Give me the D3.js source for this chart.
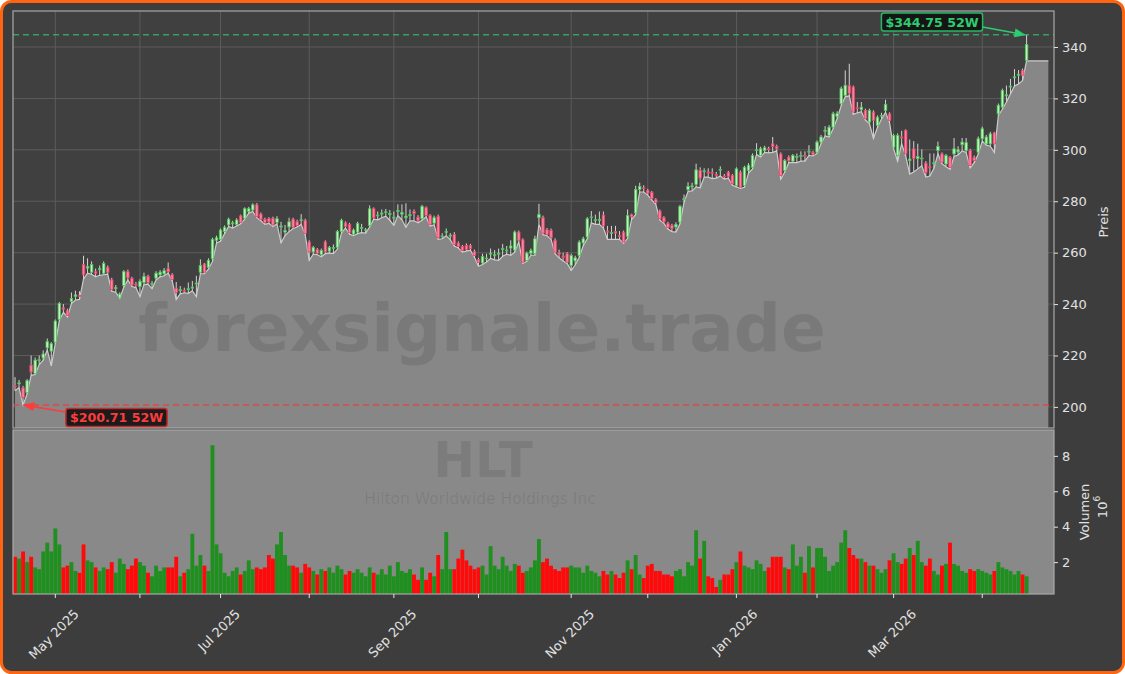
<!DOCTYPE html>
<html><head><meta charset="utf-8">
<script src="https://cdn.jsdelivr.net/npm/d3@7/dist/d3.min.js"></script>
<style>html,body{margin:0;padding:0;background:#ffffff;} svg{display:block;font-family:"DejaVu Sans",sans-serif;}</style>
</head><body><svg id="c" width="1125" height="674"></svg>
<script>
// ---------------- DATA ----------------
const ticker = "HLT";
const company = "Hilton Worldwide Holdings Inc";
const watermark = "forexsignale.trade";
const startDate = "2025-04-16";
const endDate = "2026-04-17";
const holidays = ["2025-04-18","2025-05-26","2025-06-19","2025-07-04","2025-09-01","2025-11-27",
  "2025-12-25","2026-01-01","2026-01-19","2026-02-16","2026-04-03"];

const openP = [
 208.2,209.0,207.4,205.6,216.2,213.0,218.0,219.0,223.0,221.7,
 225.2,234.0,238.6,237.4,241.0,243.0,243.4,255.4,254.0,252.4,
 252.6,253.4,252.0,254.2,249.4,246.0,242.4,247.2,252.6,250.0,
 247.8,246.8,248.4,250.8,247.6,250.1,251.4,251.8,253.8,251.4,
 246.2,245.2,245.4,245.6,246.2,247.8,252.4,255.6,254.2,257.6,
 264.8,265.2,268.2,270.8,271.2,271.0,274.3,273.4,276.0,276.6,
 278.6,275.0,273.0,273.2,273.4,271.8,270.0,268.0,270.0,273.0,
 272.0,272.6,272.6,264.2,260.3,261.2,259.3,264.2,260.6,261.6,
 262.0,268.2,271.6,271.0,267.2,268.0,269.4,268.6,270.6,277.1,
 274.4,275.0,275.6,274.8,273.4,276.0,275.0,273.6,274.4,276.0,
 273.8,273.2,277.5,274.5,271.5,274.1,266.2,268.0,266.4,267.1,
 263.7,262.4,262.8,262.8,260.5,257.3,256.0,257.6,259.4,258.8,
 259.4,261.2,260.8,261.8,261.0,268.0,265.0,257.0,259.8,259.6,
 273.6,273.6,268.9,268.7,264.8,260.0,258.6,259.6,255.0,256.8,
 258.9,263.8,266.1,273.6,272.4,272.6,274.6,268.4,267.4,268.2,
 266.6,268.0,266.3,274.8,275.4,284.6,285.2,284.2,283.5,280.6,
 276.2,273.6,271.4,270.6,270.0,271.9,280.6,284.5,285.6,286.6,
 292.0,291.6,291.4,291.2,290.4,292.2,289.8,291.3,290.0,286.1,
 291.3,286.1,292.0,293.2,299.8,297.8,299.7,300.4,302.3,301.3,
 298.4,292.0,297.1,295.6,297.2,297.6,297.8,299.2,299.0,299.1,
 303.0,307.2,305.6,308.8,313.0,317.9,321.2,325.0,324.4,316.4,
 315.6,315.3,310.8,314.7,309.5,313.2,315.3,314.0,301.0,297.8,
 305.0,307.5,295.8,300.4,296.6,296.6,294.8,293.4,294.6,299.7,
 298.4,294.5,297.1,298.4,299.2,302.0,299.7,299.7,297.0,299.1,
 304.3,302.3,302.3,306.5,314.0,316.6,321.0,324.4,328.0,329.0,
 330.9,334.8];
const highP = [
 211.6,210.5,208.2,210.8,220.0,219.2,220.0,222.0,226.6,225.2,
 234.0,240.8,240.0,238.2,244.5,245.2,245.0,258.8,257.8,256.6,
 253.8,255.0,256.6,255.0,250.2,247.4,244.6,253.2,253.4,250.6,
 248.6,249.6,252.2,251.4,249.0,252.8,253.2,254.0,256.2,252.0,
 248.6,247.0,246.4,248.4,249.0,251.0,257.4,256.0,257.8,265.8,
 266.6,269.4,270.6,273.6,272.4,273.4,274.8,277.6,277.8,279.2,
 279.3,275.6,273.6,273.8,274.0,274.2,272.0,270.8,273.6,273.6,
 272.8,275.0,273.2,264.8,262.6,261.8,261.6,264.8,262.6,263.2,
 268.8,273.2,272.2,271.6,269.4,272.0,271.2,269.6,278.4,277.6,
 276.0,276.8,277.0,276.6,276.0,278.8,278.8,279.2,276.8,276.8,
 274.6,278.6,278.0,275.0,274.4,274.8,267.6,269.4,267.6,268.0,
 264.4,263.0,263.6,263.4,261.2,258.0,259.6,259.6,261.6,261.0,
 261.6,263.4,262.6,264.8,268.6,268.6,265.6,260.4,261.6,266.6,
 279.0,274.4,269.6,269.4,265.6,261.2,260.0,260.2,259.6,258.8,
 264.8,266.2,273.8,276.2,274.8,276.0,276.0,270.4,270.4,270.4,
 268.4,268.6,276.8,275.2,286.0,287.2,286.2,284.8,284.0,281.2,
 276.8,274.2,272.0,271.2,271.8,278.6,282.6,287.4,287.2,294.6,
 293.2,292.8,292.8,292.8,291.4,293.6,290.6,291.8,290.6,293.2,
 292.0,293.8,294.8,298.6,302.6,301.2,301.6,301.2,305.0,302.0,
 299.0,296.4,297.8,298.4,298.6,299.4,299.4,301.8,299.6,303.6,
 305.8,309.2,309.6,314.8,315.0,324.6,330.9,333.5,325.0,318.6,
 318.6,316.0,316.0,315.4,313.4,314.4,319.5,314.6,306.2,306.4,
 307.4,308.0,304.0,303.4,302.4,300.2,295.6,298.6,298.6,303.2,
 299.0,298.4,297.6,304.6,301.4,304.6,304.6,300.4,297.8,305.2,
 309.0,305.8,307.0,307.0,318.0,323.8,325.0,327.6,331.4,331.0,
 331.6,344.75];
const lowP = [
 206.3,207.5,200.71,205.0,212.3,212.6,216.5,218.2,222.2,216.0,
 224.6,233.6,236.8,235.0,240.2,241.6,241.8,249.8,252.0,251.6,
 250.6,251.2,251.4,251.6,245.0,244.6,242.2,246.6,249.4,246.8,
 246.4,242.9,247.6,247.8,246.0,249.4,250.6,251.0,252.0,249.0,
 241.8,244.0,244.4,244.2,245.2,242.9,251.8,251.8,253.6,256.6,
 263.8,264.4,267.4,270.2,269.6,270.4,271.2,273.0,275.4,276.0,
 273.6,272.4,271.0,271.4,270.2,271.2,263.8,266.6,268.2,269.4,
 270.0,271.0,267.0,257.0,259.4,259.2,258.4,259.6,259.8,259.6,
 261.4,267.6,269.6,267.2,266.6,267.4,267.8,267.6,270.0,273.0,
 272.8,273.6,274.2,272.6,270.6,274.4,272.8,269.9,272.4,272.4,
 271.6,272.6,274.0,270.4,270.8,265.2,265.4,266.6,265.0,262.6,
 261.8,260.2,260.6,261.0,258.2,254.7,255.4,256.4,257.8,257.2,
 257.0,258.6,259.4,259.0,260.2,264.2,255.8,256.6,259.0,259.0,
 271.0,267.0,266.6,265.2,259.6,258.0,256.8,255.8,253.1,255.2,
 258.2,262.8,265.4,271.6,271.0,271.0,269.6,265.2,265.2,265.2,
 265.2,263.6,265.6,273.0,274.8,283.6,283.6,282.4,280.4,278.8,
 272.6,271.4,269.2,268.2,268.0,271.2,279.6,283.8,284.0,285.6,
 285.2,289.4,289.4,288.8,289.0,289.8,288.6,289.0,286.2,285.6,
 285.0,285.4,291.0,292.6,298.2,297.2,299.0,298.8,299.0,299.6,
 288.6,291.4,295.0,295.0,295.0,295.6,295.6,297.8,297.6,298.6,
 302.4,305.4,305.0,308.2,312.2,317.2,320.6,321.0,313.8,314.4,
 314.8,311.6,310.2,304.4,308.8,312.0,314.6,310.6,300.4,295.6,
 302.4,297.6,290.6,291.4,292.6,293.8,289.4,289.8,292.8,298.4,
 294.6,293.4,292.4,297.4,298.0,299.6,299.0,293.0,295.0,298.4,
 303.4,301.8,301.4,299.0,313.4,315.8,318.6,321.8,324.8,325.6,
 327.0,334.6];
const closeP = [
 207.8,209.4,203.6,210.2,213.6,218.2,218.4,220.6,225.4,224.6,
 233.4,240.2,238.0,235.6,242.2,243.6,243.0,251.4,254.6,255.4,
 252.0,253.8,255.8,252.4,245.6,246.4,243.9,252.6,250.2,247.4,
 247.5,248.8,250.8,248.4,248.0,252.0,252.4,253.0,252.6,249.6,
 244.6,245.6,245.0,246.0,246.6,248.2,255.0,252.4,257.0,265.2,
 265.8,268.8,269.9,273.0,271.6,272.7,271.8,277.1,277.1,278.6,
 274.0,273.0,271.7,272.0,270.8,273.2,270.4,268.6,272.0,269.9,
 270.6,272.8,267.5,260.3,262.0,259.8,260.9,260.3,262.0,262.0,
 268.2,272.6,270.2,267.8,268.8,271.4,269.8,268.9,277.1,273.6,
 274.6,275.4,275.9,275.2,273.8,276.4,275.6,274.2,274.8,275.2,
 272.5,278.0,274.5,271.0,273.6,265.8,266.5,268.2,266.8,263.2,
 262.4,260.9,261.2,261.6,258.9,256.3,258.5,257.9,259.8,259.2,
 259.8,261.6,261.0,262.6,268.0,264.8,256.3,259.8,260.8,265.4,
 274.9,267.6,267.1,265.8,260.2,259.4,258.2,256.3,258.9,258.0,
 264.1,265.4,273.2,273.9,272.8,273.0,270.4,268.0,267.8,267.6,
 266.2,264.1,274.5,274.0,284.6,285.8,285.0,283.2,281.0,279.6,
 273.2,272.0,269.8,269.4,271.0,278.0,281.0,285.8,286.0,292.2,
 289.0,291.8,291.0,291.0,290.2,292.4,289.6,289.6,286.8,292.6,
 285.5,293.2,294.0,297.8,300.0,300.4,300.8,300.2,301.3,300.4,
 290.0,295.8,295.8,297.8,297.4,297.8,297.6,299.4,298.2,303.0,
 305.0,307.6,308.8,314.0,314.2,323.8,325.1,322.0,314.7,316.0,
 316.6,312.1,315.3,311.4,312.7,313.4,317.7,311.4,305.6,305.6,
 304.6,298.4,296.4,296.6,297.4,296.8,291.2,293.0,295.0,301.3,
 295.2,297.8,293.2,300.4,300.0,303.0,302.8,293.9,295.8,304.3,
 308.2,305.0,306.2,302.3,317.3,323.1,321.4,324.8,328.4,329.4,
 329.0,341.0];
// volume in millions of shares
const volumeM = [
 2.3,2.2,2.6,2.0,2.3,1.7,1.6,2.6,3.1,2.6,
 3.9,3.0,1.7,1.8,2.0,1.5,1.4,3.0,2.1,2.0,
 1.7,1.5,1.7,1.6,2.0,1.4,2.2,1.9,1.6,1.8,
 2.2,2.0,1.8,1.4,1.2,1.8,1.5,1.7,1.7,1.7,
 2.3,1.2,1.4,1.6,3.6,1.8,2.4,1.8,1.5,8.6,
 3.0,2.5,1.4,1.2,1.5,1.7,1.3,1.5,2.1,1.6,
 1.7,1.6,1.7,2.4,2.2,3.0,3.7,2.4,1.8,1.8,
 1.7,1.4,1.9,1.7,1.5,1.3,1.6,1.5,1.7,1.4,
 1.8,1.6,1.3,1.5,1.4,1.6,1.4,1.2,1.7,1.4,
 1.3,1.6,1.3,1.8,1.2,2.0,1.5,1.4,1.6,1.3,
 1.0,1.7,1.0,1.4,1.2,2.4,1.6,3.7,1.6,1.6,
 2.2,2.7,2.1,1.8,1.6,1.7,1.8,1.3,2.9,1.8,
 1.6,2.3,1.8,1.5,1.9,1.8,1.4,1.5,1.7,2.1,
 3.3,2.0,2.2,1.8,1.6,1.5,1.7,1.7,1.8,1.7,
 1.7,1.4,1.8,1.5,1.4,1.2,1.5,1.3,1.5,1.3,
 1.1,1.4,2.1,1.6,2.4,1.3,1.1,1.8,1.9,1.5,
 1.5,1.3,1.3,1.2,1.5,1.6,1.2,2.0,1.8,3.8,
 2.2,3.2,1.2,1.1,0.6,1.0,1.3,1.3,1.6,2.0,
 2.6,1.8,1.7,1.6,2.1,1.9,1.5,1.7,2.3,2.3,
 2.3,1.7,1.6,3.0,1.8,2.3,1.4,2.9,1.7,2.8,
 2.8,2.3,1.5,1.8,2.0,3.1,3.8,2.8,2.4,2.2,
 2.2,2.0,1.8,1.8,1.6,1.4,1.6,2.1,2.5,2.0,
 1.9,2.2,2.8,2.4,3.2,2.0,1.8,2.2,1.5,1.3,
 1.8,1.9,3.1,1.9,1.8,1.5,1.4,1.6,1.5,1.6,
 1.5,1.4,1.3,1.5,2.0,1.7,1.6,1.5,1.3,1.5,
 1.3,1.2];
const priceTicks = [200,220,240,260,280,300,320,340];
const volumeTicks = [2,4,6,8];
const high52 = 344.75, low52 = 200.71;
const priceLabel = "Preis", volumeLabel = "Volumen";

// ---------------- BUILD ----------------
const hol = new Set(holidays);
const dates = [];
for (let d = new Date(startDate + "T00:00:00Z"); d <= new Date(endDate + "T00:00:00Z"); d = new Date(d.getTime() + 864e5)) {
  const wd = d.getUTCDay(); const s = d.toISOString().slice(0,10);
  if (wd !== 0 && wd !== 6 && !hol.has(s)) dates.push(new Date(d));
}
const n = Math.min(dates.length, closeP.length);
const data = d3.range(n).map(i => ({i, date: dates[i], o: openP[i], h: highP[i], l: lowP[i], c: closeP[i], v: volumeM[i]}));

const svg = d3.select("#c");
const W = 1125, H = 674;
const L = 13, R = 1054, PT = 11, PB = 428, VT = 430, VB = 594;

svg.append("rect").attr("x",1.5).attr("y",1.5).attr("width",W-3).attr("height",H-3).attr("rx",10)
  .attr("fill","#3d3d3d").attr("stroke","#ff6410").attr("stroke-width",3);

const x = d3.scaleLinear().domain([-0.5, n + 5.8]).range([L, R]);
const step = x(1) - x(0);
const y = d3.scaleLinear().domain([191.8, 354]).range([PB, PT]);
const vMax = d3.max(data, d => d.v) * 1.1;
const yv = d3.scaleLinear().domain([0.2, vMax]).range([VB, VT]);

const monthTicks = data.filter((d, k) => k > 0 && d.date.getUTCMonth() !== data[k-1].date.getUTCMonth());
const fmt = d3.utcFormat("%b %Y");

const defs = svg.append("defs");
defs.append("clipPath").attr("id","pclip").append("rect").attr("x",L).attr("y",PT).attr("width",R-L).attr("height",PB-PT);
defs.append("clipPath").attr("id","vclip").append("rect").attr("x",L).attr("y",VT).attr("width",R-L).attr("height",VB-VT);
[["ag","#2ecc71"],["ar","#ff3b3b"]].forEach(([id,col]) => {
  defs.append("marker").attr("id",id).attr("viewBox","0 0 10 10").attr("refX",9).attr("refY",5)
    .attr("markerWidth",7).attr("markerHeight",7).attr("orient","auto-start-reverse")
    .append("path").attr("d","M0,1 L10,5 L0,9 z").attr("fill",col);
});

// price panel
svg.append("rect").attr("x",L).attr("y",PT).attr("width",R-L).attr("height",PB-PT).attr("fill","#404040");
const gp = svg.append("g").attr("clip-path","url(#pclip)");
gp.selectAll("line.hg").data(priceTicks).join("line").attr("x1",L).attr("x2",R)
  .attr("y1",d=>y(d)).attr("y2",d=>y(d)).attr("stroke","#5f5f5f").attr("stroke-width",0.9);
gp.selectAll("line.vg").data(monthTicks).join("line").attr("y1",PT).attr("y2",PB)
  .attr("x1",d=>x(d.i)).attr("x2",d=>x(d.i)).attr("stroke","#5f5f5f").attr("stroke-width",0.9);

const areaPts = data.map(d => [d.i, d.l]);
areaPts.push([n - 1 + 5.4, data[n-1].l]);
gp.append("path").datum(areaPts)
  .attr("d", d3.area().x(p=>x(p[0])).y0(PB).y1(p=>y(p[1])))
  .attr("fill","#878787");
gp.append("path").datum(areaPts)
  .attr("d", d3.line().x(p=>x(p[0])).y(p=>y(p[1])))
  .attr("fill","none").attr("stroke","#cccccc").attr("stroke-width",1.2);

gp.append("text").attr("x",482).attr("y",328).attr("text-anchor","middle").attr("dominant-baseline","central")
  .attr("font-size",66).attr("font-weight","bold").attr("fill","#000").attr("fill-opacity",0.1).text(watermark);

const cg = gp.append("g");
cg.selectAll("line.w").data(data).join("line")
  .attr("x1",d=>x(d.i)).attr("x2",d=>x(d.i)).attr("y1",d=>y(d.h)).attr("y2",d=>y(d.l))
  .attr("stroke","#d2d2d2").attr("stroke-width",1);
const bw = step*0.62;
cg.selectAll("rect.b").data(data).join("rect")
  .attr("x",d=>x(d.i)-bw/2).attr("width",bw)
  .attr("y",d=>y(Math.max(d.o,d.c))).attr("height",d=>Math.max(0.8, Math.abs(y(d.o)-y(d.c))))
  .attr("fill",d=> d.c>=d.o ? "#c6ecc6" : "#f2889f")
  .attr("stroke",d=> d.c>=d.o ? "#45c84f" : "#f0406a").attr("stroke-width",0.8);

gp.append("line").attr("x1",L).attr("x2",R).attr("y1",y(high52)).attr("y2",y(high52))
  .attr("stroke","#2ecc71").attr("stroke-opacity",0.7).attr("stroke-width",1.5).attr("stroke-dasharray","6,4");
gp.append("line").attr("x1",L).attr("x2",R).attr("y1",y(low52)).attr("y2",y(low52))
  .attr("stroke","#e84343").attr("stroke-opacity",0.9).attr("stroke-width",1.5).attr("stroke-dasharray","6,4");

svg.append("rect").attr("x",L).attr("y",PT).attr("width",R-L).attr("height",PB-PT)
  .attr("fill","none").attr("stroke","#a9a9a9").attr("stroke-width",1.2);

// volume panel
svg.append("rect").attr("x",L).attr("y",VT).attr("width",R-L).attr("height",VB-VT).attr("fill","#898989");
const gv = svg.append("g").attr("clip-path","url(#vclip)");
gv.append("text").attr("x",483).attr("y",477).attr("text-anchor","middle")
  .attr("font-size",50).attr("font-weight","bold").attr("fill","#000").attr("fill-opacity",0.09).text(ticker);
gv.append("text").attr("x",480).attr("y",504).attr("text-anchor","middle")
  .attr("font-size",15.5).attr("fill","#000").attr("fill-opacity",0.09).text(company);
const vw = step*0.96;
gv.selectAll("rect.v").data(data).join("rect")
  .attr("x",d=>x(d.i)-vw/2).attr("width",vw).attr("y",d=>yv(d.v)).attr("height",d=>VB-yv(d.v))
  .attr("fill",d=> d.c>=d.o ? "#1f8f1f" : "#ff0a0a");
svg.append("rect").attr("x",L).attr("y",VT).attr("width",R-L).attr("height",VB-VT)
  .attr("fill","none").attr("stroke","#a9a9a9").attr("stroke-width",1.2);

// axes
const txtCol = "#e2e2e2";
const yAxis = d3.axisRight(y).tickValues(priceTicks).tickSize(4).tickPadding(4);
svg.append("g").attr("transform",`translate(${R},0)`).call(yAxis)
  .call(g=>{g.select(".domain").remove(); g.selectAll("line").attr("stroke",txtCol);
    g.selectAll("text").attr("fill",txtCol).attr("font-size",13).attr("font-family","DejaVu Sans");});
const vAxis = d3.axisRight(yv).tickValues(volumeTicks).tickSize(4).tickPadding(4);
svg.append("g").attr("transform",`translate(${R},0)`).call(vAxis)
  .call(g=>{g.select(".domain").remove(); g.selectAll("line").attr("stroke",txtCol);
    g.selectAll("text").attr("fill",txtCol).attr("font-size",13).attr("font-family","DejaVu Sans");});

svg.selectAll("line.xt").data(monthTicks).join("line")
  .attr("x1",d=>x(d.i)).attr("x2",d=>x(d.i)).attr("y1",VB).attr("y2",VB+4).attr("stroke",txtCol);
const labeled = monthTicks.filter(d => d.date.getUTCMonth() % 2 === 0);
svg.selectAll("text.xl").data(labeled).join("text")
  .attr("text-anchor","middle").attr("dominant-baseline","central")
  .attr("font-size",13).attr("fill",txtCol).text(d=>fmt(d.date))
  .each(function(d){
    const len = this.getComputedTextLength();
    const box = (len + 13) * Math.SQRT1_2;
    d3.select(this).attr("transform",`translate(${x(d.i)-1.5},${607 + box/2}) rotate(-45)`);
  });

svg.append("text").attr("transform","translate(1103,222) rotate(-90)").attr("text-anchor","middle")
  .attr("dominant-baseline","central").attr("font-size",13).attr("fill",txtCol).text(priceLabel);
svg.append("text").attr("transform","translate(1084,512) rotate(-90)").attr("text-anchor","middle")
  .attr("dominant-baseline","central").attr("font-size",13).attr("fill",txtCol).text(volumeLabel);
const ex = svg.append("text").attr("transform","translate(1102,507) rotate(-90)").attr("text-anchor","middle")
  .attr("dominant-baseline","central").attr("font-size",13).attr("fill",txtCol);
ex.append("tspan").text("10");
ex.append("tspan").attr("font-size",9).attr("dy",-5).text("6");

// annotations
function note(val, bx, by, col, border) {
  const g = svg.append("g");
  const t = g.append("text").attr("x",bx).attr("y",by).attr("text-anchor","middle").attr("dominant-baseline","central")
    .attr("font-size",12.6).attr("font-weight","bold").attr("fill",col).text(`$${val.toFixed(2)} 52W`);
  const len = t.node().getComputedTextLength();
  const w = len + 8, h = 18;
  g.insert("rect","text").attr("x",bx-w/2).attr("y",by-h/2).attr("width",w).attr("height",h).attr("rx",2.5)
    .attr("fill","#111").attr("fill-opacity",0.92).attr("stroke",border).attr("stroke-width",1.5);
  return {w,h};
}
const hi = note(high52, 932, 22, "#2ecc71", "#27b863");
svg.append("line").attr("x1",932+hi.w/2).attr("y1",27).attr("x2",x(n-1)-2).attr("y2",y(high52))
  .attr("stroke","#2ecc71").attr("stroke-width",1.6).attr("marker-end","url(#ag)");
const lo = note(low52, 116.5, 417.5, "#ff3b3b", "#c42a2a");
svg.append("line").attr("x1",116.5-lo.w/2).attr("y1",412).attr("x2",x(2)+1).attr("y2",y(low52))
  .attr("stroke","#ff3b3b").attr("stroke-width",1.6).attr("marker-end","url(#ar)");
</script></body></html>
